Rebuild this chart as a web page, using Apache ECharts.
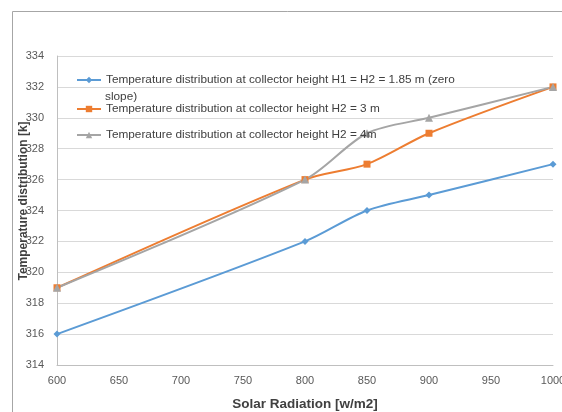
<!DOCTYPE html>
<html>
<head>
<meta charset="utf-8">
<script src="https://cdn.jsdelivr.net/npm/echarts@6/dist/echarts.min.js"></script>
<style>
  html, body { margin: 0; padding: 0; background: #fff; }
  #chart { width: 562px; height: 412px; }
</style>
</head>
<body>
<div id="chart"></div>
<script>
// x positions (solar radiation, w/m2)
const radiation = [600, 800, 850, 900, 1000]

// temperatures [k]
const tempH185 = [316, 322, 324, 325, 327]
const tempH3 = [319, 326, 327, 329, 332]
const tempH4 = [319, 326, 329, 330, 332]

const names = [
  'Temperature distribution at collector height H1 = H2 = 1.85 m (zero slope)',
  'Temperature distribution at collector height H2 = 3 m',
  'Temperature distribution at collector height H2 = 4m'
]
const colors = ['#5B9BD5', '#ED7D31', '#A5A5A5']
const symbols = ['diamond', 'rect', 'triangle']

const font = '"Liberation Sans", Arial, sans-serif'

const pairs = (ys) => radiation.map((x, i) => [x, ys[i]])

const chart = echarts.init(document.getElementById('chart'))

const legendBase = {
  orient: 'vertical',
  left: 76,
  padding: 0,
  itemWidth: 24,
  itemHeight: 8,
  textStyle: { fontFamily: font, fontSize: 11.8, color: '#404040' }
}

chart.setOption({
  animation: false,
  grid: { left: 57, right: 9, top: 56, bottom: 47, outerBoundsMode: 'none' },
  legend: [
    Object.assign({}, legendBase, {
      top: 74, data: [names[0]],
      formatter: () => 'Temperature distribution at collector height H1 = H2 = 1.85 m (zero'
    }),
    Object.assign({}, legendBase, { top: 103, data: [names[1]] }),
    Object.assign({}, legendBase, { top: 129, data: [names[2]] })
  ],
  graphic: [
    {
      type: 'rect', left: 10, top: 9, silent: true,
      shape: { width: 600, height: 450 },
      style: { fill: 'none', stroke: '#A6A6A6', lineWidth: 1 }
    },
    {
      type: 'text', left: 105, top: 91, silent: true,
      style: { text: 'slope)', fontFamily: font, fontSize: 11.8, fill: '#404040' }
    }
  ],
  xAxis: {
    type: 'value',
    min: 600, max: 1000, interval: 50,
    name: 'Solar Radiation [w/m2]',
    nameLocation: 'middle',
    nameGap: 32,
    nameMoveOverlap: false,
    nameTextStyle: { fontFamily: font, fontSize: 13.5, fontWeight: 'bold', color: '#404040' },
    axisLine: { show: true, lineStyle: { color: '#BFBFBF' } },
    axisTick: { show: false },
    splitLine: { show: false },
    axisLabel: {
      fontFamily: font, fontSize: 11, color: '#595959', margin: 10,
      formatter: (v) => String(v)
    }
  },
  yAxis: {
    type: 'value',
    min: 314, max: 334, interval: 2,
    name: 'Temperature distribution [k]',
    nameLocation: 'middle',
    nameGap: 27,
    nameMoveOverlap: false,
    nameTextStyle: {
      fontFamily: font, fontSize: 12, fontWeight: 'bold', color: '#404040',
      padding: [0, 0, 0, 19]
    },
    axisLine: { show: true, lineStyle: { color: '#BFBFBF' } },
    axisTick: { show: false },
    splitLine: { lineStyle: { color: '#D9D9D9' } },
    axisLabel: { fontFamily: font, fontSize: 11, color: '#595959', margin: 13 }
  },
  series: [tempH185, tempH3, tempH4].map((ys, i) => ({
    name: names[i],
    type: 'line',
    data: pairs(ys),
    smooth: 0.3,
    symbol: symbols[i],
    symbolSize: i === 2 ? 8 : 7,
    color: colors[i],
    lineStyle: { width: 2, color: colors[i] },
    itemStyle: { color: colors[i] }
  }))
})
</script>
</body>
</html>
